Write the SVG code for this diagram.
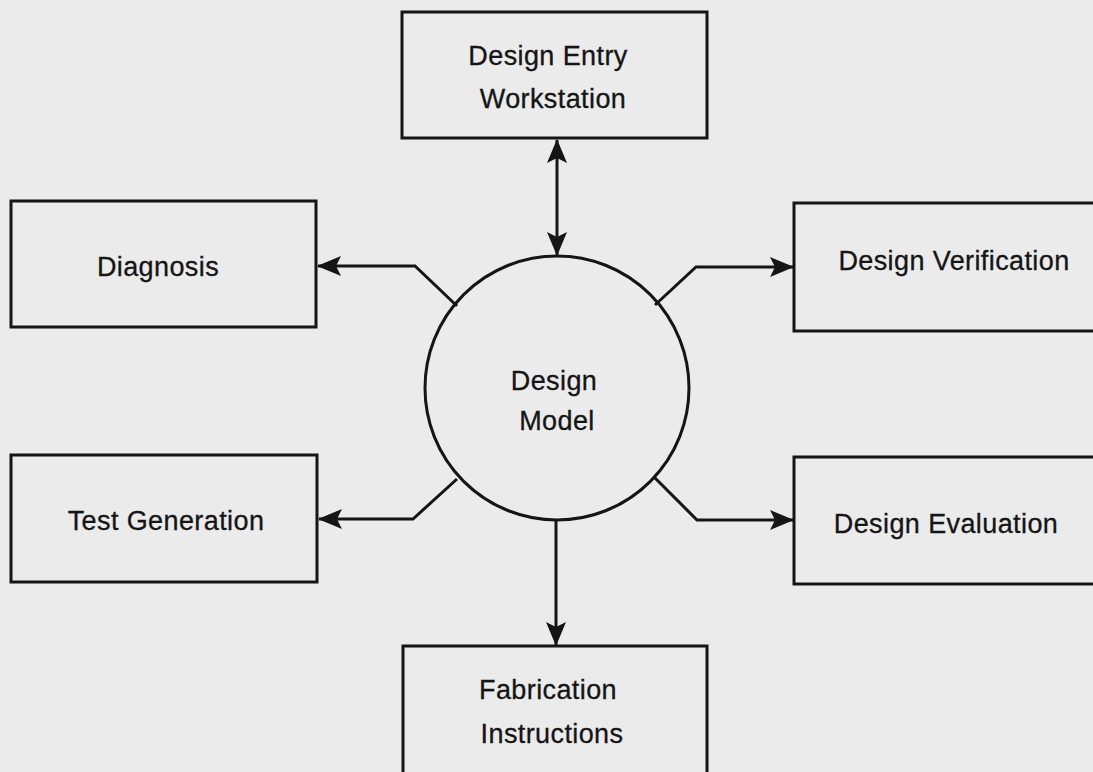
<svg xmlns="http://www.w3.org/2000/svg" width="1093" height="772" viewBox="0 0 1093 772">
<style>
.box{fill:none;stroke:#151515;stroke-width:3}
.ln{fill:none;stroke:#151515;stroke-width:3}
.t{font-family:"Liberation Sans",Arial,sans-serif;font-size:27px;letter-spacing:0.4px;fill:#151515;stroke:#151515;stroke-width:0.3;text-anchor:middle}
</style>
<defs>
<marker id="ah" viewBox="0 0 24 20" refX="23" refY="10" markerWidth="24" markerHeight="20" markerUnits="userSpaceOnUse" orient="auto-start-reverse">
<path d="M0,0 L24,10 L0,20 L5,10 Z" fill="#151515"/>
</marker>
</defs>
<rect width="1093" height="772" fill="#ebebeb"/>
<g id="connectors">
<line class="ln" x1="557" y1="140" x2="557" y2="255" marker-start="url(#ah)" marker-end="url(#ah)"/>
<line class="ln" x1="556" y1="521" x2="556" y2="645" marker-end="url(#ah)"/>
<polyline class="ln" points="457,306 415,266 318,266" marker-end="url(#ah)"/>
<polyline class="ln" points="655,305 696,267 793,267" marker-end="url(#ah)"/>
<polyline class="ln" points="457,479 413,519 319,519" marker-end="url(#ah)"/>
<polyline class="ln" points="654,477 697,520 793,520" marker-end="url(#ah)"/>
</g>
<g id="design-entry">
<rect class="box" x="402" y="12" width="305" height="126"/>
<text class="t" x="548" y="65">Design Entry</text>
<text class="t" x="553" y="108">Workstation</text>
</g>
<g id="diagnosis">
<rect class="box" x="11" y="201" width="305" height="126"/>
<text class="t" x="158" y="276">Diagnosis</text>
</g>
<g id="test-generation">
<rect class="box" x="11" y="455" width="306" height="127"/>
<text class="t" x="166" y="530">Test Generation</text>
</g>
<g id="design-verification">
<rect class="box" x="794" y="203" width="310" height="128"/>
<text class="t" x="954" y="270">Design Verification</text>
</g>
<g id="design-evaluation">
<rect class="box" x="794" y="457" width="310" height="127"/>
<text class="t" x="946" y="533">Design Evaluation</text>
</g>
<g id="fabrication">
<rect class="box" x="403" y="646" width="304" height="140"/>
<text class="t" x="548" y="699">Fabrication</text>
<text class="t" x="552" y="743">Instructions</text>
</g>
<g id="design-model">
<circle class="ln" cx="557" cy="388" r="132"/>
<text class="t" x="554" y="390">Design</text>
<text class="t" x="557" y="430">Model</text>
</g>
</svg>
